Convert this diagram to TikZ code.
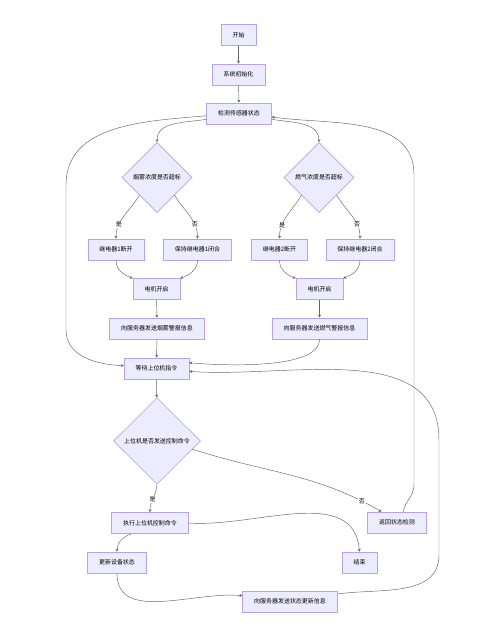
\documentclass[tikz,border=0pt]{standalone}
\usepackage{fontspec}
\setmainfont{Noto Sans CJK SC}
\usetikzlibrary{shapes.geometric,arrows.meta}
\definecolor{boxfill}{HTML}{ECECFF}
\definecolor{boxline}{HTML}{9370DB}
\definecolor{edgeline}{HTML}{333333}

\begin{document}
\begin{tikzpicture}[x=0.03cm,y=-0.03cm,
    font=\fontsize{5.1}{6}\selectfont,
    proc/.style={draw=boxline!65,fill=boxfill,line width=0.5pt,inner xsep=9.8pt,inner ysep=0pt,minimum height=17.9pt},
    cond/.style={diamond,aspect=1,draw=boxline!65,fill=boxfill,line width=0.5pt,inner sep=0pt},
    flow/.style={draw=edgeline!75,line width=0.4pt,-{Stealth[length=2.6pt,width=2.6pt]}},
    lbl/.style={fill=white,inner sep=0.6pt}]
    \useasboundingbox (0,0) rectangle (502,626);

    % top part
    \node[proc] (start) at (238.5,35) {开始};
    \node[proc] (init) at (238.5,74.5) {系统初始化};
    \node[proc] (detect) at (239,113.5) {检测传感器状态};

    % smoke branch
    \node[cond,minimum width=2.1cm,minimum height=2.1cm] (smoke) at (157,177.5) {烟雾浓度是否超标};
    \node[proc] (relayA) at (116,249.5) {继电器1断开};
    \node[proc] (keepA) at (197.5,249.5) {保持继电器1闭合};
    \node[proc] (motorA) at (156.5,289) {电机开启};
    \node[proc] (alarmA) at (157,328.5) {向服务器发送烟雾警报信息};

    % gas branch
    \node[cond,minimum width=2.1cm,minimum height=2.1cm] (gas) at (319,177.5) {燃气浓度是否超标};
    \node[proc] (relayB) at (279.5,249.5) {继电器2断开};
    \node[proc] (keepB) at (360,249.5) {保持继电器2闭合};
    \node[proc] (motorB) at (319.5,289) {电机开启};
    \node[proc] (alarmB) at (319.5,328.5) {向服务器发送燃气警报信息};

    % command part
    \node[proc] (wait) at (156.5,368.5) {等待上位机指令};
    \node[cond,minimum width=2.61cm,minimum height=2.6cm] (cmd) at (157,441) {上位机是否发送控制命令};
    \node[proc] (exec) at (150,523) {执行上位机控制命令};
    \node[proc] (ret) at (397,522.5) {返回状态检测};
    \node[proc] (update) at (117,562.5) {更新设备状态};
    \node[proc] (stop) at (359.5,562.5) {结束};
    \node[proc] (status) at (290,601.5) {向服务器发送状态更新信息};

    % bends of the long loops
    \coordinate (leftTop) at (66,185);
    \coordinate (leftLow) at (66,330);
    \coordinate (retLow) at (414,485);
    \coordinate (retTop) at (414,175);
    \coordinate (updLow) at (439,555);
    \coordinate (updTop) at (439,440);

    \draw[flow] (start) -- (init);
    \draw[flow] (init) -- (detect);
    \draw[flow] (detect.-170) to[out=190,in=90] (smoke.north);
    \draw[flow] (detect.-10) to[out=-10,in=90] (gas.north);
    \draw[flow] (detect.-176) to[out=185,in=90] (leftTop) -- (leftLow) to[out=-90,in=178] (wait.175);

    \draw[flow] (smoke.south west) to[out=-120,in=90] node[lbl,pos=0.72] {是} (relayA.north);
    \draw[flow] (smoke.south east) to[out=-60,in=90] node[lbl,pos=0.72] {否} (keepA.north);
    \draw[flow] (relayA.south) to[out=-90,in=160] (motorA.north west);
    \draw[flow] (keepA.south) to[out=-90,in=20] (motorA.north east);
    \draw[flow] (motorA) -- (alarmA);
    \draw[flow] (alarmA) -- (wait);

    \draw[flow] (gas.south west) to[out=-120,in=90] node[lbl,pos=0.72] {是} (relayB.north);
    \draw[flow] (gas.south east) to[out=-60,in=90] node[lbl,pos=0.72] {否} (keepB.north);
    \draw[flow] (relayB.south) to[out=-90,in=160] (motorB.north west);
    \draw[flow] (keepB.south) to[out=-90,in=20] (motorB.north east);
    \draw[flow] (motorB) -- (alarmB);
    \draw[flow] (alarmB.south) to[out=-90,in=-5,looseness=0.6] (wait.10);

    \draw[flow] (wait) -- (cmd);
    \draw[flow] (cmd.south) to[out=-95,in=90] node[lbl,pos=0.55] {是} (exec.north);
    \draw[flow] (cmd.-13) to[out=-18,in=150] node[lbl,pos=0.9] {否} (ret.145);
    \draw[flow] (ret.60) to[out=80,in=-90] (retLow) -- (retTop) to[out=90,in=-8] (detect.-6);

    \draw[flow] (exec.-150) to[out=200,in=90] (update.north);
    \draw[flow] (exec.east) to[out=-4,in=95] (stop.north);
    \draw[flow] (update.south) to[out=-90,in=175] (status.173);
    \draw[flow] (status.9) to[out=8,in=-90] (updLow) -- (updTop) to[out=90,in=-4] (wait.-5);
\end{tikzpicture}
\end{document}
